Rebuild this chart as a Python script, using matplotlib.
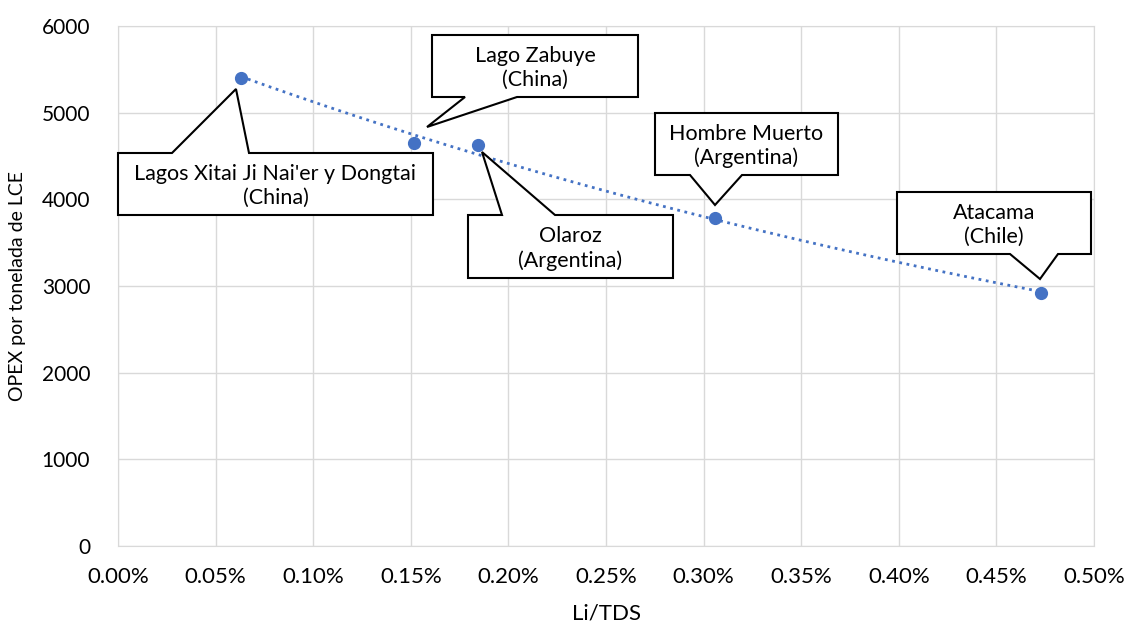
import numpy as np
import matplotlib.pyplot as plt
from matplotlib.patches import Polygon
from matplotlib.ticker import PercentFormatter

plt.rcParams['font.family'] = ['Lato', 'DejaVu Sans']

# Datos (Li/TDS en %, OPEX en USD por tonelada de LCE)
li_tds = [0.063, 0.1516, 0.1844, 0.3058, 0.4729]
opex = [5400, 4650, 4630, 3780, 2920]
nombres = ["Lagos Xitai Ji Nai'er y Dongtai\n(China)",
           "Lago Zabuye\n(China)",
           "Olaroz\n(Argentina)",
           "Hombre Muerto\n(Argentina)",
           "Atacama\n(Chile)"]

color = '#4472C4'
gris = '#d9d9d9'

W, H = 1128, 626
fig = plt.figure(figsize=(W / 100, H / 100), dpi=100)
ax = fig.add_axes([118 / W, 80 / H, 976 / W, 520 / H])

# Línea de tendencia exponencial
b, lna = np.polyfit(li_tds, np.log(opex), 1)
xt = np.linspace(min(li_tds), max(li_tds), 200)
ax.plot(xt, np.exp(lna) * np.exp(b * xt), ls=':', color=color, lw=2, zorder=2)
ax.plot(li_tds, opex, 'o', color=color, ms=8.5, zorder=3)

ax.set_xlim(0, 0.5)
ax.set_ylim(0, 6000)
ax.set_xticks(np.arange(0, 0.51, 0.05))
ax.set_yticks(np.arange(0, 6001, 1000))
ax.xaxis.set_major_formatter(PercentFormatter(decimals=2))
ax.grid(True, color=gris, lw=1)
ax.set_axisbelow(True)
for s in ax.spines.values():
    s.set_color(gris)
ax.tick_params(length=0, colors='#000000')
ax.tick_params(axis='x', pad=15, labelsize=16)
ax.tick_params(axis='y', pad=20, labelsize=15)
ax.set_xlabel('Li/TDS', fontsize=16, labelpad=12)
ax.set_ylabel('OPEX por tonelada de LCE', fontsize=14, labelpad=11)

# Globos de texto (píxeles de la figura, origen arriba a la izquierda)
globos = [
    # caja (izq, arriba, der, abajo), lado, base1, base2, punta
    ((118, 153, 433, 215), 'top', 172, 249, (236, 89)),
    ((432, 35, 638, 97), 'bottom', 465, 517, (427, 127)),
    ((468, 215, 673, 278), 'top', 502, 555, (482, 152)),
    ((655, 113, 838, 175), 'bottom', 690, 742, (715, 205)),
    ((897, 192, 1091, 254), 'bottom', 1010, 1058, (1040, 279)),
]


def fp(x, y):
    return (x / W, 1 - y / H)


for nombre, (caja, lado, b1, b2, punta) in zip(nombres, globos):
    l, t, r, btm = caja
    if lado == 'top':
        pts = [(l, btm), (l, t), (b1, t), punta, (b2, t), (r, t), (r, btm)]
    else:
        pts = [(l, t), (r, t), (r, btm), (b2, btm), punta, (b1, btm), (l, btm)]
    poly = Polygon([fp(*p) for p in pts], closed=True, transform=fig.transFigure,
                   facecolor='white', edgecolor='black', lw=1.5, zorder=5)
    fig.add_artist(poly)
    fig.text((l + r) / 2 / W, 1 - (t + btm + 4) / 2 / H, nombre, ha='center',
             va='center', fontsize=15.5, linespacing=1.25, zorder=6)

fig.savefig('out.png', dpi=100)
